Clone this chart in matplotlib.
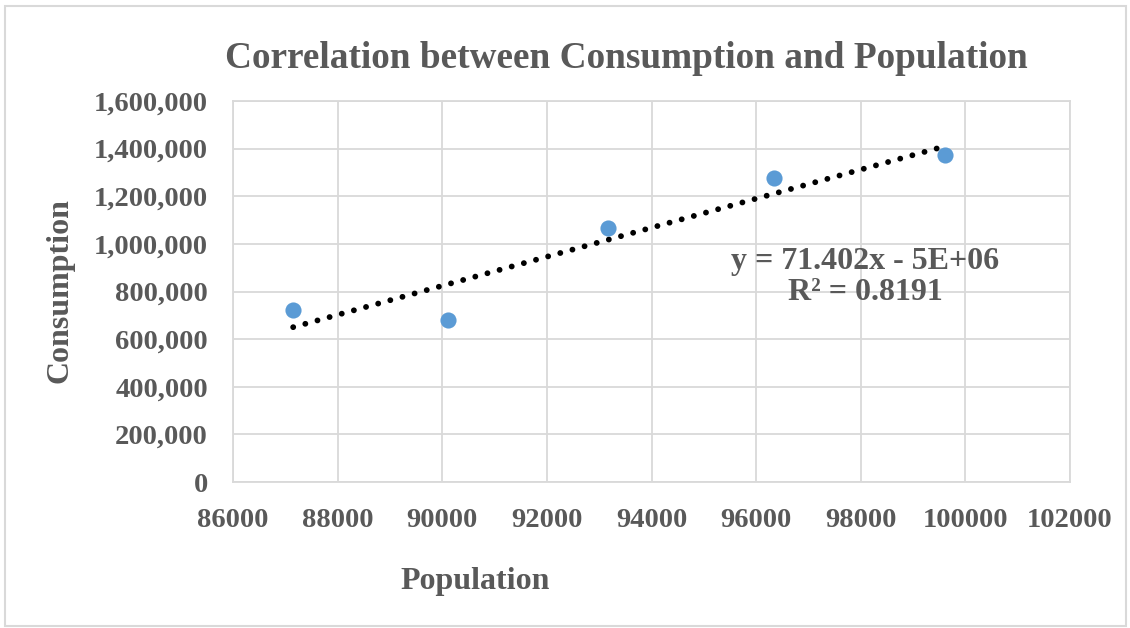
import numpy as np
import matplotlib
matplotlib.use('Agg')
import matplotlib.pyplot as plt
from matplotlib.ticker import FuncFormatter
from matplotlib.patches import Rectangle

# values
population = [87150, 90110, 93170, 96340, 99610]
consumption = [722000, 680000, 1067000, 1277000, 1373000]
x_ticks = [86000, 88000, 90000, 92000, 94000, 96000, 98000, 100000, 102000]
y_ticks = [0, 200000, 400000, 600000, 800000, 1000000, 1200000, 1400000, 1600000]
equation_text = "y = 71.402x - 5E+06\nR² = 0.8191"

grey = '#595959'
grid_c = '#D9D9D9'
plt.rcParams['font.family'] = ['Liberation Serif', 'DejaVu Serif']
plt.rcParams['font.weight'] = 'bold'

fig = plt.figure(figsize=(11.3, 6.28), dpi=100)
ax = fig.add_axes([233/1130, 1 - 482/628, (1070-233)/1130, (482-101)/628])

# linear trendline through the points
coef = np.polyfit(population, consumption, 1)
xs = np.array([min(population), max(population)])
ax.plot(xs, np.polyval(coef, xs), color='black', linewidth=4.2,
        linestyle=(0, (0.01, 2.15)), dash_capstyle='round', zorder=3)

ax.scatter(population, consumption, s=135, color='#5B9BD5', zorder=4, linewidths=0)

ax.set_xlim(86000, 102000)
ax.set_ylim(0, 1600000)
ax.set_xticks(x_ticks)
ax.set_yticks(y_ticks)
ax.yaxis.set_major_formatter(FuncFormatter(lambda v, p: f'{int(v):,}'))
ax.tick_params(length=0, labelsize=20.5, labelcolor=grey)
ax.tick_params(axis='y', pad=18)
ax.tick_params(axis='x', pad=19)
ax.grid(True, color=grid_c, linewidth=1.3)
ax.set_axisbelow(True)
for s in ax.spines.values():
    s.set_color(grid_c)
    s.set_linewidth(1.3)

ax.text(98080, 860000, equation_text, ha='center', va='center', fontsize=23,
        color=grey, linespacing=1.1)

fig.text(626/1130, 1 - 59/628, 'Correlation between Consumption and Population',
         ha='center', va='center', fontsize=26.8, color=grey)
fig.text(475/1130, 1 - 581/628, 'Population', ha='center', va='center',
         fontsize=23, color=grey)
fig.text(60/1130, 1 - 291/628, 'Consumption', ha='center', va='center',
         rotation=90, fontsize=23, color=grey)

fig.patches.append(Rectangle((5/1130, 2/628), 1121/1130, 620/628,
                             transform=fig.transFigure, fill=False,
                             edgecolor=grid_c, linewidth=1.5))

fig.savefig('out.png', dpi=100)
